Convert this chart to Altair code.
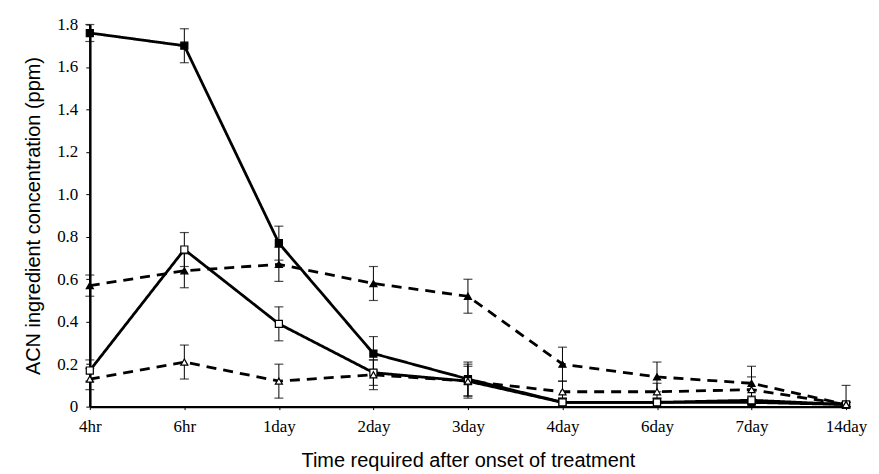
import altair as alt
import pandas as pd

times = ["4hr", "6hr", "1day", "2day", "3day", "4day", "6day", "7day", "14day"]

filled_square = [1.76, 1.70, 0.77, 0.25, 0.13, 0.02, 0.02, 0.02, 0.01]
filled_square_err = [0.04, 0.08, 0.08, 0.08, 0.08, 0.02, 0.02, 0.02, 0.01]

open_square = [0.17, 0.74, 0.39, 0.16, 0.12, 0.02, 0.02, 0.03, 0.01]
open_square_err = [0.05, 0.08, 0.08, 0.06, 0.07, 0.02, 0.02, 0.02, 0.01]

filled_triangle = [0.57, 0.64, 0.67, 0.58, 0.52, 0.20, 0.14, 0.11, 0.01]
filled_triangle_err = [0.05, 0.08, 0.08, 0.08, 0.08, 0.08, 0.07, 0.08, 0.01]

open_triangle = [0.13, 0.21, 0.12, 0.15, 0.12, 0.07, 0.07, 0.08, 0.01]
open_triangle_err = [0.05, 0.08, 0.08, 0.07, 0.08, 0.05, 0.04, 0.06, 0.09]

series = [
    ("A", filled_square, filled_square_err, "square", "black", "solid"),
    ("B", open_square, open_square_err, "square", "white", "solid"),
    ("C", filled_triangle, filled_triangle_err, "triangle-up", "black", "dashed"),
    ("D", open_triangle, open_triangle_err, "triangle-up", "white", "dashed"),
]

rows = []
for name, vals, errs, shape, fill, style in series:
    for t, v, e in zip(times, vals, errs):
        rows.append({"series": name, "time": t, "value": v,
                     "lo": max(v - e, 0), "hi": v + e,
                     "shape": shape, "fill": fill, "style": style})
df = pd.DataFrame(rows)

x_enc = alt.X("time:N", sort=times, scale=alt.Scale(type="point", padding=0),
              axis=alt.Axis(title="Time required after onset of treatment",
                            labelAngle=0, labelFont="Liberation Serif", labelFontSize=17,
                            labelColor="black", labelPadding=9,
                            titleFont="Liberation Sans", titleFontSize=20,
                            titleFontWeight="normal", titleColor="black",
                            titlePadding=16,
                            domainColor="black", domainWidth=2.5,
                            ticks=True, tickSize=3, tickColor="black", grid=False))

y_scale = alt.Scale(domain=[0, 1.8], nice=False, zero=True)

base = alt.Chart(df)

lines = base.mark_line(strokeWidth=2.8, color="black").encode(
    x=x_enc,
    y=alt.Y("value:Q", scale=y_scale,
            axis=alt.Axis(title="ACN ingredient concentration (ppm)",
                          values=[0, 0.2, 0.4, 0.6, 0.8, 1.0, 1.2, 1.4, 1.6, 1.8],
                          labelExpr="datum.value == 0 ? '0' : format(datum.value, '.1f')",
                          labelFont="Liberation Serif", labelFontSize=17,
                          labelColor="black", labelPadding=8,
                          titleFont="Liberation Sans", titleFontSize=20,
                          titleFontWeight="normal", titleColor="black",
                          titlePadding=13,
                          domainColor="black", domainWidth=2.5,
                          tickSize=4, tickColor="black", grid=False)),
    detail="series:N",
    strokeDash=alt.StrokeDash("style:N",
                              scale=alt.Scale(domain=["solid", "dashed"],
                                              range=[[1, 0], [10, 7]]),
                              legend=None),
)

rules = base.mark_rule(color="black", strokeWidth=1).encode(
    x=alt.X("time:N", sort=times),
    y=alt.Y("lo:Q", scale=y_scale),
    y2="hi:Q",
)

caps_hi = base.mark_tick(color="black", thickness=1.2, size=9).encode(
    x=alt.X("time:N", sort=times),
    y=alt.Y("hi:Q", scale=y_scale),
)
caps_lo = base.mark_tick(color="black", thickness=1.2, size=9).encode(
    x=alt.X("time:N", sort=times),
    y=alt.Y("lo:Q", scale=y_scale),
)

points = base.mark_point(size=50, strokeWidth=1.2, opacity=1, filled=False).encode(
    x=alt.X("time:N", sort=times),
    y=alt.Y("value:Q", scale=y_scale),
    shape=alt.Shape("shape:N", scale=None),
    fill=alt.Fill("fill:N", scale=None),
    color=alt.value("black"),
)

chart = alt.layer(lines, rules, caps_hi, caps_lo, points).properties(
    width=758, height=383,
    autosize=alt.AutoSizeParams(type="none"),
    padding={"left": 82, "top": 16, "right": 25, "bottom": 75},
    background="white",
).configure_view(stroke=None)

chart.save("out.html", embed_options={"renderer": "svg", "actions": False})
